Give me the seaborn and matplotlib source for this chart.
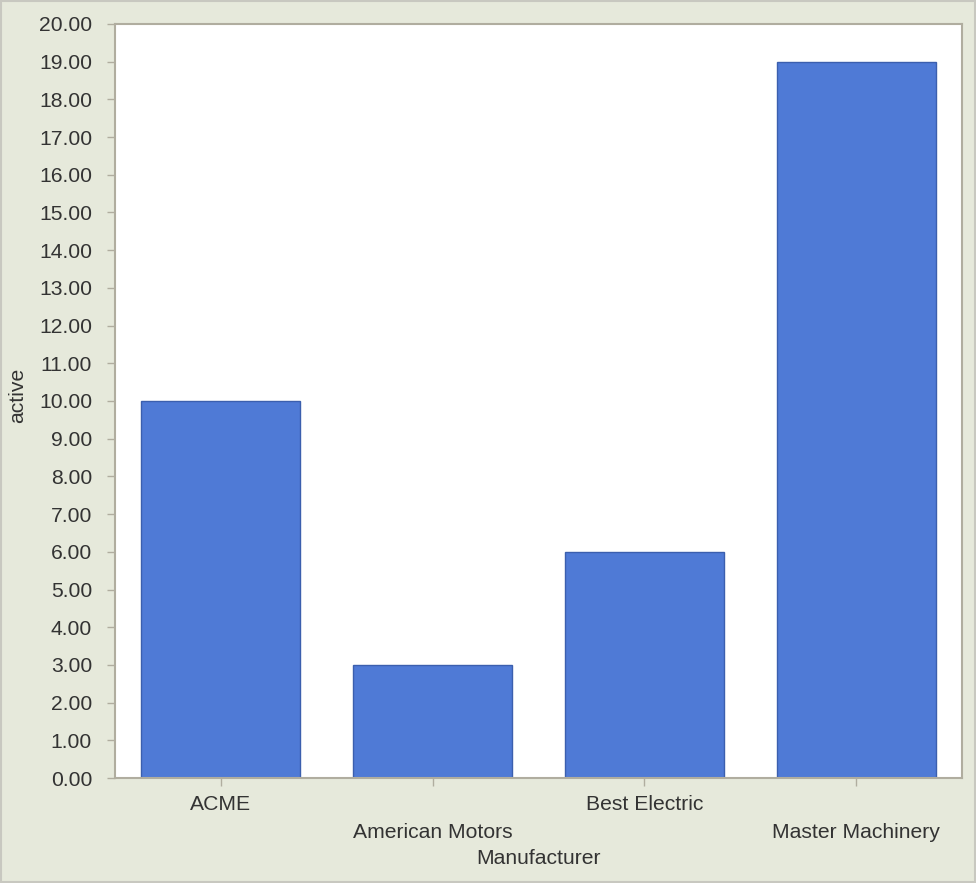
import matplotlib
matplotlib.use("Agg")
import matplotlib.pyplot as plt
import seaborn as sns
import pandas as pd
from matplotlib.patches import Rectangle

manufacturers = ["ACME", "American Motors", "Best Electric", "Master Machinery"]
active = [10, 3, 6, 19]
yticks = [i for i in range(0, 21)]

sns.set_theme(style="white")
plt.rcParams['font.family'] = ['Liberation Sans', 'DejaVu Sans']

bg = "#e6e9db"
txt = "#333333"
fs = 15.2
df = pd.DataFrame({"Manufacturer": manufacturers, "active": active})

fig = plt.figure(figsize=(9.76, 8.83), dpi=100, facecolor=bg)
ax = fig.add_axes([115/976, 1-778/883, (962-115)/976, (778-24)/883])
ax.set_facecolor("white")
sns.barplot(data=df, x="Manufacturer", y="active", color="#4f7ad6",
            saturation=1, width=0.75, edgecolor="#3b5fae", linewidth=1.0, ax=ax)

ax.set_ylim(0, 20)
ax.set_xlim(-0.5, 3.5)
ax.set_yticks(yticks)
ax.set_yticklabels([f"{v:.2f}" for v in yticks], fontsize=fs, color=txt)
labels = [m if i % 2 == 0 else "\n" + m for i, m in enumerate(manufacturers)]
ax.set_xticks(range(len(manufacturers)))
ax.set_xticklabels(labels, fontsize=fs, color=txt, linespacing=1.65)
ax.tick_params(axis="both", which="both", length=6, width=1, color="#b0ad9f",
               left=True, bottom=True)
ax.tick_params(axis="y", pad=10.5)
ax.tick_params(axis="x", pad=6)
for s in ax.spines.values():
    s.set_color("#b0ad9f")
    s.set_linewidth(1.5)
ax.set_xlabel("Manufacturer", fontsize=fs, color=txt, labelpad=5)
ax.set_ylabel("active", fontsize=fs, color=txt)
ax.yaxis.set_label_coords(-0.104, 0.508)

fig.patches.append(Rectangle((0.001, 0.001), 0.998, 0.998, transform=fig.transFigure,
                             fill=False, edgecolor="#c8c8c0", linewidth=1.5))

fig.savefig("out.png", dpi=100, facecolor=bg)
